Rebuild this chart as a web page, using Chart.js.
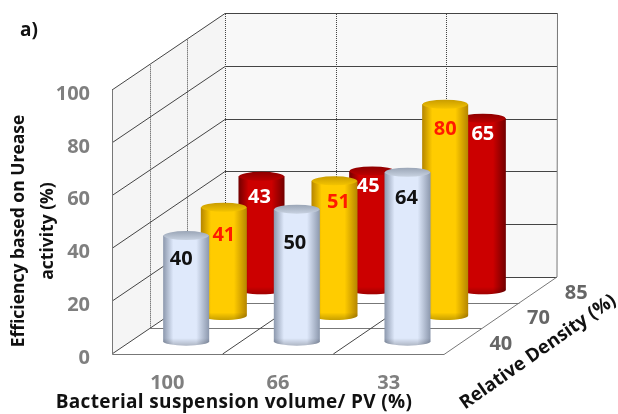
<!DOCTYPE html>
<html>
<head>
<meta charset="utf-8">
<style>
  html, body { margin: 0; padding: 0; background: #fff; }
  canvas { display: block; }
</style>
</head>
<body>
<canvas id="chart" width="618" height="414"></canvas>
<script src="https://cdn.jsdelivr.net/npm/chart.js@4"></script>
<script>
const categories = ['100', '66', '33'];
const densities = ['40', '70', '85'];
const density40 = [40, 50, 64];
const density70 = [41, 51, 80];
const density85 = [43, 45, 65];
const yTicks = [0, 20, 40, 60, 80, 100];

// oblique projection: how far the back wall sits from the front plane
const depthX = 113;
const depthY = -77;
// the tick labels sit a little under their grid lines, so the scene is lifted
const lift = 4;

const looks = [
  { edge: '#8c98ad', mid: '#dfe9fb', top1: '#9aa5b6', top2: '#c8d2e1', text: '#111111' },
  { edge: '#b58500', mid: '#ffcc00', top1: '#c99c00', top2: '#f4c400', text: '#ff1a00' },
  { edge: '#720000', mid: '#cc0000', top1: '#8e0000', top2: '#bc0000', text: '#ffffff' }
];

// label placement on the cylinders [dx, dy from the top], one row per dataset
const labelNudge = [
  [[-5, 24], [-2, 34], [-1, 26]],
  [[0, 28], [4, 21], [0, 25]],
  [[-2, 21], [-4, 15], [0, 16]]
];

function rowShift(i) {
  const f = (i + 0.5) / densities.length;
  return { x: depthX * f, y: depthY * f - lift };
}

function snap(v) {
  return Math.round(v) + 0.5;
}

function drawCylinder(ctx, bar, shift, look) {
  const cx = bar.x + shift.x;
  const r = bar.width / 2;
  const ry = 4.5;
  const top = bar.y + shift.y;
  const bottom = bar.base + shift.y;

  const g = ctx.createLinearGradient(cx - r, 0, cx + r, 0);
  g.addColorStop(0, look.edge);
  g.addColorStop(0.22, look.mid);
  g.addColorStop(0.72, look.mid);
  g.addColorStop(1, look.edge);
  ctx.beginPath();
  ctx.moveTo(cx - r, top);
  ctx.lineTo(cx - r, bottom);
  ctx.ellipse(cx, bottom, r, ry, 0, Math.PI, 0, true);
  ctx.lineTo(cx + r, top);
  ctx.closePath();
  ctx.fillStyle = g;
  ctx.fill();

  // darker rim along the foot
  const foot = ctx.createLinearGradient(0, bottom - 3, 0, bottom + ry);
  foot.addColorStop(0, 'rgba(0,0,0,0)');
  foot.addColorStop(1, 'rgba(0,0,0,0.22)');
  ctx.fillStyle = foot;
  ctx.fill();

  const t = ctx.createLinearGradient(0, top - ry, 0, top + ry);
  t.addColorStop(0, look.top1);
  t.addColorStop(1, look.top2);
  ctx.fillStyle = t;
  ctx.beginPath();
  ctx.ellipse(cx, top, r - 0.5, ry, 0, 0, Math.PI * 2);
  ctx.fill();
}

const scene = {
  id: 'scene',
  beforeDatasetsDraw(chart) {
    const ctx = chart.ctx;
    const x = chart.scales.x;
    const y = chart.scales.y;
    const x0 = x.left, x1 = x.right;
    const y0 = y.getPixelForValue(0) - lift, y1 = y.getPixelForValue(100) - lift;
    const rows = densities.length;

    ctx.save();
    // walls
    ctx.fillStyle = '#f5f5f5';
    ctx.beginPath();
    ctx.moveTo(x0, y0);
    ctx.lineTo(x0, y1);
    ctx.lineTo(x0 + depthX, y1 + depthY);
    ctx.lineTo(x0 + depthX, y0 + depthY);
    ctx.closePath();
    ctx.fill();
    ctx.fillStyle = '#f8f8f8';
    ctx.fillRect(x0 + depthX, y1 + depthY, x1 - x0, y0 - y1);

    // verticals are the fine dotted ones
    ctx.strokeStyle = '#444444';
    ctx.lineWidth = 1;
    ctx.setLineDash([1, 1]);
    for (let i = 1; i <= rows; i++) {
      const px = snap(x0 + depthX * i / rows);
      const py = depthY * i / rows;
      ctx.beginPath();
      ctx.moveTo(px, y0 + py);
      ctx.lineTo(px, y1 + py);
      ctx.stroke();
    }
    const step = (x1 - x0) / categories.length;
    for (let i = 1; i < categories.length; i++) {
      const px = snap(x0 + depthX + step * i);
      ctx.beginPath();
      ctx.moveTo(px, y0 + depthY);
      ctx.lineTo(px, y1 + depthY);
      ctx.stroke();
    }
    ctx.setLineDash([]);

    // value lines along both walls
    ctx.strokeStyle = '#444444';
    yTicks.forEach(v => {
      const py = y.getPixelForValue(v) - lift;
      ctx.beginPath();
      ctx.moveTo(x0, py);
      ctx.lineTo(x0 + depthX, snap(py + depthY));
      ctx.lineTo(x1 + depthX, snap(py + depthY));
      ctx.stroke();
    });

    // floor
    ctx.strokeStyle = '#777777';
    ctx.beginPath();
    ctx.moveTo(snap(x0), y1);
    ctx.lineTo(snap(x0), snap(y0));
    ctx.lineTo(x1, snap(y0));
    ctx.lineTo(x1 + depthX, y0 + depthY);
    ctx.lineTo(snap(x1 + depthX), y1 + depthY);
    ctx.stroke();
    for (let i = 1; i < rows; i++) {
      const py = snap(y0 + depthY * i / rows);
      ctx.beginPath();
      ctx.moveTo(x0 + depthX * i / rows, py);
      ctx.lineTo(x1 + depthX * i / rows, py);
      ctx.stroke();
    }
    ctx.strokeStyle = '#444444';
    for (let i = 1; i < categories.length; i++) {
      ctx.beginPath();
      ctx.moveTo(x0 + step * i, y0);
      ctx.lineTo(x0 + step * i + depthX, y0 + depthY);
      ctx.stroke();
    }

    // depth axis labels
    ctx.font = 'bold 20px "Open Sans"';
    ctx.fillStyle = '#666666';
    ctx.textAlign = 'center';
    ctx.textBaseline = 'middle';
    densities.forEach((d, i) => {
      const s = rowShift(i);
      ctx.fillText(d, x1 + s.x + 38, y.getPixelForValue(0) + s.y + 3);
    });
    ctx.restore();
  },
  beforeDatasetDraw(chart, args) {
    const shift = rowShift(args.index);
    args.meta.data.forEach(bar => drawCylinder(chart.ctx, bar, shift, looks[args.index]));
    return false;
  },
  afterDatasetsDraw(chart) {
    const ctx = chart.ctx;
    ctx.save();
    ctx.textAlign = 'center';
    ctx.textBaseline = 'middle';
    ctx.font = 'bold 20px "Open Sans"';
    chart.data.datasets.forEach((ds, i) => {
      const shift = rowShift(i);
      chart.getDatasetMeta(i).data.forEach((bar, j) => {
        const n = labelNudge[i][j];
        ctx.fillStyle = looks[i].text;
        ctx.fillText(ds.data[j], bar.x + shift.x + n[0], bar.y + shift.y + n[1]);
      });
    });

    // titles sit off-centre in the original, so they are placed by hand
    ctx.fillStyle = '#111111';
    ctx.font = 'bold 19px "Open Sans"';
    ctx.letterSpacing = '0.35px';
    ctx.fillText('Bacterial suspension volume/ PV (%)', 234, 403);
    ctx.letterSpacing = '0px';
    ctx.font = 'bold 17.5px "Open Sans"';
    ctx.save();
    ctx.translate(19, 231);
    ctx.rotate(-Math.PI / 2);
    ctx.fillText('Efficiency based on Urease', 0, 0);
    ctx.fillText('activity (%)', 0, 29);
    ctx.restore();
    ctx.font = 'bold 18.7px "Open Sans"';
    ctx.save();
    ctx.translate(538, 352);
    ctx.rotate(-35 * Math.PI / 180);
    ctx.fillText('Relative Density (%)', 0, 0);
    ctx.restore();
    ctx.font = 'bold 19px "Open Sans"';
    ctx.fillText('a)', 29, 31);
    ctx.restore();
  }
};

new Chart(document.getElementById('chart').getContext('2d'), {
  type: 'bar',
  data: {
    labels: categories,
    datasets: [
      { label: '40', data: density40, backgroundColor: looks[0].mid },
      { label: '70', data: density70, backgroundColor: looks[1].mid },
      { label: '85', data: density85, backgroundColor: looks[2].mid }
    ]
  },
  plugins: [scene],
  options: {
    responsive: false,
    animation: false,
    events: [],
    layout: { padding: { left: 0, right: 174, top: 90 + lift, bottom: 0 } },
    datasets: { bar: { grouped: false, categoryPercentage: 1, barPercentage: 0.416 } },
    plugins: { legend: { display: false }, tooltip: { enabled: false } },
    scales: {
      x: {
        afterFit: s => { s.height = 60 - lift; },
        grid: { display: false },
        border: { display: false },
        ticks: { color: '#7f7f7f', padding: 5, font: { family: 'Open Sans', size: 20, weight: 'bold' } }
      },
      y: {
        min: 0,
        max: 100,
        afterFit: s => { s.width = 112; },
        grid: { display: false },
        border: { display: false },
        ticks: { stepSize: 20, color: '#7f7f7f', padding: 14, font: { family: 'Open Sans', size: 20, weight: 'bold' } }
      }
    }
  }
});
</script>
</body>
</html>
